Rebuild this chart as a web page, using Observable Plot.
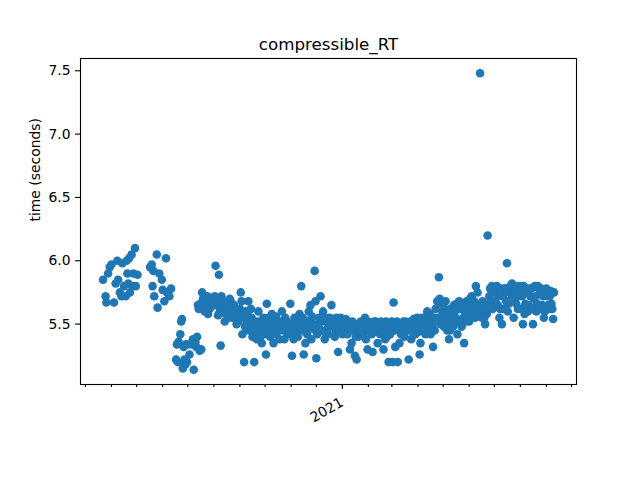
<!DOCTYPE html>
<html><head><meta charset="utf-8">
<script src="https://cdn.jsdelivr.net/npm/d3@7"></script>
<script src="https://cdn.jsdelivr.net/npm/@observablehq/plot@0.6"></script>
<style>body{margin:0;background:#fff}</style>
</head><body><div id="chart"></div>
<script>
const title = "compressible_RT";
const yLabel = "time (seconds)";
const yTicks = [5.5, 6.0, 6.5, 7.0, 7.5];
const xMajorTicks = ["2021-01-01"];
const xMajorLabels = ["2021"];

const dates = [
"2020-03-22","2020-03-25","2020-03-26","2020-03-28","2020-03-30","2020-04-01","2020-04-04","2020-04-06","2020-04-08","2020-04-09",
"2020-04-11","2020-04-13","2020-04-14","2020-04-16","2020-04-18","2020-04-19","2020-04-20","2020-04-21","2020-04-22","2020-04-23",
"2020-04-25","2020-04-26","2020-04-27","2020-04-29","2020-04-30","2020-05-02","2020-05-17","2020-05-19","2020-05-20","2020-05-21",
"2020-05-22","2020-05-25","2020-05-26","2020-05-28","2020-05-31","2020-06-01","2020-06-03","2020-06-05","2020-06-06","2020-06-09",
"2020-06-11","2020-06-17","2020-06-18","2020-06-19","2020-06-20","2020-06-22","2020-06-23","2020-06-24","2020-06-25","2020-06-26",
"2020-06-27","2020-06-28","2020-06-29","2020-06-30","2020-07-03","2020-07-04","2020-07-07","2020-07-08","2020-07-10","2020-07-11",
"2020-07-12","2020-07-13","2020-07-14","2020-07-15","2020-07-17","2020-07-18","2020-07-20","2020-07-21","2020-07-23","2020-07-24",
"2020-07-25","2020-07-28","2020-07-29","2020-07-30","2020-08-02","2020-08-03","2020-08-04","2020-08-06","2020-08-07","2020-08-08",
"2020-08-09","2020-08-10","2020-08-12","2020-08-14","2020-08-16","2020-08-19","2020-08-20","2020-08-22","2020-08-25","2020-08-27",
"2020-08-28","2020-08-30","2020-09-01","2020-09-02","2020-09-03","2020-09-04","2020-09-05","2020-09-06","2020-09-08","2020-09-09",
"2020-09-11","2020-09-12","2020-09-15","2020-09-16","2020-09-18","2020-09-20","2020-09-21","2020-09-23","2020-09-24","2020-09-26",
"2020-09-27","2020-09-29","2020-10-02","2020-10-03","2020-10-04","2020-10-06","2020-10-09","2020-10-11","2020-10-12","2020-10-15",
"2020-10-17","2020-10-18","2020-10-21","2020-10-23","2020-10-25","2020-10-28","2020-10-30","2020-10-31","2020-11-02","2020-11-04",
"2020-11-07","2020-11-08","2020-11-10","2020-11-11","2020-11-13","2020-11-16","2020-11-17","2020-11-18","2020-11-21","2020-11-22",
"2020-11-24","2020-11-25","2020-11-27","2020-11-29","2020-11-30","2020-12-01","2020-12-02","2020-12-04","2020-12-06","2020-12-07",
"2020-12-09","2020-12-11","2020-12-13","2020-12-16","2020-12-17","2020-12-19","2020-12-20","2020-12-24","2020-12-26","2020-12-27",
"2020-12-30","2021-01-01","2021-01-04","2021-01-06","2021-01-08","2021-01-10","2021-01-12","2021-01-14","2021-01-16","2021-01-18",
"2021-01-20","2021-01-22","2021-01-24","2021-01-28","2021-01-29","2021-01-31","2021-02-03","2021-02-05","2021-02-06","2021-02-08",
"2021-02-11","2021-02-12","2021-02-14","2021-02-17","2021-02-19","2021-02-23","2021-02-25","2021-03-01","2021-03-02","2021-03-03",
"2021-03-04","2021-03-05","2021-03-08","2021-03-09","2021-03-10","2021-03-13","2021-03-15","2021-03-18","2021-03-21","2021-03-24",
"2021-03-26","2021-03-29","2021-03-31","2021-04-03","2021-04-04","2021-04-07","2021-04-08","2021-04-12","2021-04-14","2021-04-16",
"2021-04-19","2021-04-20","2021-04-22","2021-04-26","2021-04-27","2021-04-30","2021-05-02","2021-05-04","2021-05-05","2021-05-08",
"2021-05-09","2021-05-11","2021-05-14","2021-05-16","2021-05-18","2021-05-20","2021-05-22","2021-05-23","2021-05-26","2021-05-27",
"2021-05-29","2021-06-01","2021-06-02","2021-06-04","2021-06-06","2021-06-09","2021-06-11","2021-06-13","2021-06-14","2021-06-16",
"2021-06-18","2021-06-20","2021-06-22","2021-06-23","2021-06-25","2021-06-28","2021-06-29","2021-07-01","2021-07-04","2021-07-05",
"2021-07-07","2021-07-10","2021-07-11","2021-07-13","2021-07-15","2021-07-16","2021-07-17","2021-07-19","2021-07-22","2021-07-24",
"2021-07-25","2021-07-28","2021-07-29","2021-07-31","2021-08-03","2021-08-04","2021-08-06","2021-08-09","2021-08-11","2021-08-14",
"2021-08-16","2021-08-17","2021-08-20","2021-08-22","2021-08-25","2021-08-27","2021-08-29","2021-08-31","2021-09-03","2021-09-05",
"2021-09-08","2021-09-09","2021-09-10",
// further runs inside the dense band
"2020-07-16","2020-07-19","2020-07-22","2020-07-26","2020-07-27","2020-07-31","2020-08-01","2020-08-05","2020-08-11","2020-08-13",
"2020-08-15","2020-08-17","2020-08-18","2020-08-21","2020-08-23","2020-08-24","2020-08-26","2020-08-29","2020-08-31","2020-09-07",
"2020-09-10","2020-09-13","2020-09-14","2020-09-17","2020-09-19","2020-09-22","2020-09-25","2020-09-28","2020-09-30",
"2020-10-01","2020-10-05","2020-10-07","2020-10-08","2020-10-10","2020-10-13","2020-10-14","2020-10-16","2020-10-19","2020-10-20",
"2020-10-22","2020-10-24","2020-10-26","2020-10-27","2020-10-29","2020-11-01","2020-11-03","2020-11-05","2020-11-06","2020-11-09",
"2020-11-12","2020-11-14","2020-11-15","2020-11-19","2020-11-20","2020-11-23","2020-11-26","2020-11-28","2020-12-03","2020-12-05",
"2020-12-08","2020-12-10","2020-12-12","2020-12-14","2020-12-15","2020-12-18","2020-12-21","2020-12-22","2020-12-23","2020-12-25",
"2020-12-28","2020-12-29","2020-12-31",
"2021-01-02","2021-01-03","2021-01-05","2021-01-07","2021-01-09","2021-01-11","2021-01-13","2021-01-15","2021-01-17","2021-01-19",
"2021-01-21","2021-01-23","2021-01-25","2021-01-26","2021-01-27","2021-01-30","2021-02-01","2021-02-02","2021-02-04","2021-02-07",
"2021-02-09","2021-02-10","2021-02-13","2021-02-15","2021-02-16","2021-02-18","2021-02-20","2021-02-21","2021-02-22","2021-02-24",
"2021-02-26","2021-02-27","2021-02-28","2021-03-06","2021-03-07","2021-03-11","2021-03-12","2021-03-14","2021-03-16","2021-03-17",
"2021-03-19","2021-03-20",
"2021-03-22","2021-03-23","2021-03-25","2021-03-27","2021-03-28","2021-03-30","2021-04-01","2021-04-02","2021-04-05","2021-04-06",
"2021-04-09","2021-04-10","2021-04-11","2021-04-13","2021-04-15","2021-04-17","2021-04-18","2021-04-21","2021-04-23","2021-04-24",
"2021-04-25","2021-04-28","2021-04-29","2021-05-01","2021-05-03","2021-05-06","2021-05-07","2021-05-10","2021-05-12","2021-05-13",
"2021-05-15","2021-05-17","2021-05-19","2021-05-21","2021-05-24","2021-05-25","2021-05-28","2021-05-30","2021-05-31",
"2021-06-03","2021-06-05","2021-06-07","2021-06-08","2021-06-10","2021-06-12","2021-06-15","2021-06-17","2021-06-19","2021-06-21",
"2021-06-24","2021-06-26","2021-06-27","2021-06-30","2021-07-02","2021-07-03","2021-07-06","2021-07-08","2021-07-09","2021-07-12",
"2021-07-14","2021-07-18","2021-07-20","2021-07-21","2021-07-23","2021-07-26","2021-07-27","2021-07-30","2021-08-01","2021-08-02",
"2021-08-05","2021-08-07","2021-08-08","2021-08-10","2021-08-12","2021-08-13","2021-08-15","2021-08-18","2021-08-19","2021-08-21",
"2021-08-23","2021-08-24","2021-08-26","2021-08-28","2021-08-30","2021-09-01","2021-09-02","2021-09-04","2021-09-06","2021-09-07"
];

const times = [
5.85,5.72,5.67,5.90,5.95,5.97,5.67,5.82,6.00,5.85,
5.75,5.72,5.98,5.80,5.72,6.00,5.90,5.82,6.02,5.75,
6.05,5.80,5.90,6.10,5.80,5.89,5.95,5.97,5.80,5.92,
5.72,6.05,5.63,5.90,5.85,5.77,5.68,6.02,5.75,5.72,
5.78,5.22,5.34,5.20,5.36,5.42,5.52,5.54,5.15,5.32,
5.22,5.18,5.34,5.20,5.26,5.34,5.38,5.14,5.36,5.32,
5.40,5.65,5.62,5.29,5.30,5.75,5.70,5.60,5.68,5.72,
5.58,5.68,5.64,5.70,5.72,5.96,5.65,5.57,5.89,5.60,
5.33,5.72,5.68,5.52,5.65,5.62,5.70,5.60,5.65,5.58,
5.50,5.52,5.62,5.75,5.68,5.42,5.55,5.20,5.60,5.50,
5.68,5.45,5.55,5.40,5.20,5.42,5.38,5.60,5.50,5.45,
5.35,5.55,5.26,5.66,5.45,5.50,5.58,5.35,5.42,5.52,
5.48,5.38,5.60,5.45,5.55,5.42,5.50,5.66,5.25,5.38,
5.50,5.45,5.48,5.58,5.80,5.26,5.48,5.35,5.52,5.60,
5.65,5.38,5.50,5.92,5.68,5.23,5.42,5.55,5.72,5.45,
5.60,5.38,5.52,5.48,5.55,5.65,5.50,5.45,5.52,5.28,
5.55,5.42,5.50,5.48,5.52,5.30,5.35,5.45,5.25,5.22,
5.40,5.50,5.45,5.55,5.38,5.30,5.50,5.42,5.28,5.52,
5.45,5.35,5.50,5.48,5.30,5.40,5.20,5.52,5.20,5.67,
5.45,5.32,5.20,5.50,5.35,5.45,5.52,5.48,5.22,5.38,
5.50,5.42,5.55,5.26,5.35,5.50,5.45,5.60,5.52,5.42,
5.32,5.55,5.62,5.87,5.70,5.60,5.48,5.68,5.52,5.38,
5.45,5.50,5.65,5.55,5.42,5.68,5.50,5.48,5.35,5.60,
5.68,5.52,5.70,5.72,5.62,5.80,5.75,5.65,7.48,5.55,
5.60,5.50,5.58,6.20,5.72,5.80,5.62,5.75,5.80,5.65,
5.55,5.50,5.72,5.78,5.68,5.98,5.60,5.75,5.82,5.55,
5.70,5.78,5.62,5.80,5.72,5.50,5.58,5.75,5.65,5.78,
5.50,5.70,5.60,5.80,5.75,5.65,5.55,5.75,5.65,5.72,
5.62,5.54,5.75,
// further runs inside the dense band
5.66,5.70,5.64,5.70,5.62,5.66,5.68,5.70,5.62,5.66,
5.58,5.60,5.55,5.68,5.55,5.62,5.56,5.60,5.58,5.48,
5.58,5.52,5.62,5.50,5.46,5.52,5.40,5.48,5.52,
5.42,5.55,5.40,5.48,5.52,5.46,5.56,5.44,5.52,5.46,
5.50,5.38,5.48,5.52,5.46,5.44,5.50,5.55,5.42,5.40,
5.52,5.45,5.55,5.46,5.42,5.50,5.56,5.46,5.50,5.46,
5.52,5.44,5.55,5.46,5.42,5.50,5.54,5.48,5.40,5.55,
5.50,5.46,5.52,
5.52,5.45,5.54,5.42,5.50,5.46,5.52,5.48,5.40,5.50,
5.45,5.52,5.48,5.42,5.50,5.46,5.52,5.45,5.48,5.50,
5.44,5.52,5.46,5.42,5.52,5.45,5.50,5.38,5.52,5.46,
5.50,5.42,5.48,5.48,5.52,5.50,5.42,5.48,5.40,5.52,
5.45,5.50,
5.46,5.52,5.44,5.54,5.48,5.46,5.52,5.44,5.48,5.55,
5.50,5.42,5.55,5.46,5.58,5.50,5.48,5.45,5.52,5.68,
5.55,5.50,5.66,5.55,5.62,5.45,5.58,5.62,5.55,5.48,
5.60,5.66,5.52,5.62,5.66,5.55,5.52,5.62,5.58,
5.66,5.58,5.68,5.55,5.62,5.58,5.62,5.68,5.55,5.62,
5.66,5.78,5.68,5.78,5.68,5.78,5.72,5.62,5.78,5.62,
5.78,5.66,5.80,5.70,5.76,5.80,5.66,5.72,5.78,5.62,
5.80,5.66,5.78,5.60,5.78,5.72,5.62,5.80,5.72,5.66,
5.78,5.62,5.78,5.72,5.60,5.78,5.72,5.62,5.76,5.66
];

const parse = s => new Date(s + "T00:00:00Z");
const data = dates.map((d, i) => ({date: parse(d), time: times[i]}));
const pad = (lo, hi) => { const m = (hi - lo) * 0.05; return [lo - m, hi + m]; };
const [xa, xb] = d3.extent(data, d => +d.date);
const xDomain = pad(xa, xb).map(v => new Date(v));
const yDomain = pad(...d3.extent(times));
const minorTicks = d3.utcMonth.range(xDomain[0], xDomain[1]);
const majorTicks = xMajorTicks.map(parse);

const chart = Plot.plot({
  width: 640, height: 480,
  marginLeft: 80, marginRight: 64, marginTop: 58, marginBottom: 96,
  style: {fontFamily: "DejaVu Sans", fontSize: "13.9px", color: "black", background: "white"},
  x: {type: "utc", domain: xDomain},
  y: {domain: yDomain},
  marks: [
    Plot.axisY({ticks: yTicks, tickSize: 5, tickPadding: 5, tickFormat: d3.format(".1f"), label: null, strokeWidth: 1.1}),
    Plot.axisX({ticks: minorTicks, tickSize: 3, tickFormat: () => "", label: null, strokeWidth: 1.1}),
    Plot.axisX({ticks: majorTicks, tickSize: 5, tickFormat: () => "", label: null, strokeWidth: 1.1}),
    Plot.text(majorTicks, {x: d => d, text: (d, i) => xMajorLabels[i], frameAnchor: "bottom", rotate: -30, textAnchor: "end", lineAnchor: "top", dx: -3, dy: 12, fontSize: 13.9, fill: "black"}),
    Plot.dot(data, {x: "date", y: "time", r: 4.3, fill: "#1f77b4"}),
    Plot.frame({stroke: "black", strokeWidth: 1.1}),
    Plot.text([title], {frameAnchor: "top", dy: -9, lineAnchor: "bottom", fontSize: 16.7, fill: "black"}),
    Plot.text([yLabel], {frameAnchor: "left", dx: -45, rotate: -90, fontSize: 13.9, fill: "black"})
  ]
});
document.getElementById("chart").appendChild(chart);
</script>
</body></html>
